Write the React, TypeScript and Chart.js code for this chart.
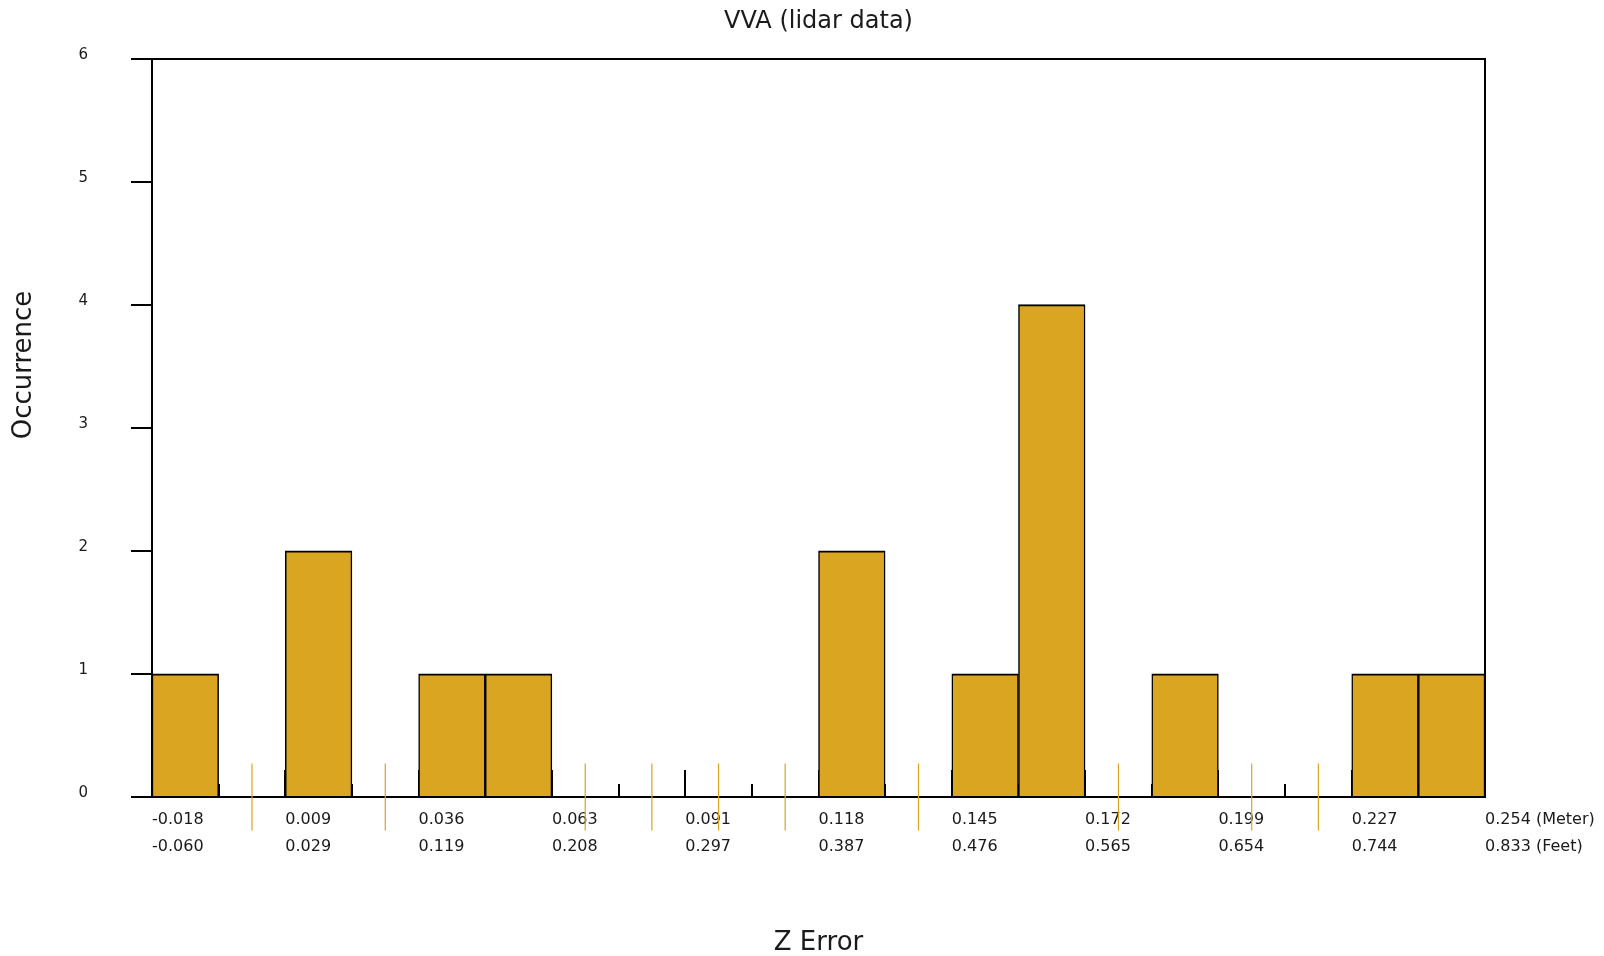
import { useEffect, useRef } from 'react';
import { Chart, registerables } from 'chart.js';

Chart.register(...registerables);

const chartTitle = 'VVA (lidar data)';
const xTitle = 'Z Error';
const yTitle = 'Occurrence';

// Occurrence per bin (20 bins from -0.018 m to 0.254 m)
const binCounts = [1, 0, 2, 0, 1, 1, 0, 0, 0, 0, 2, 0, 1, 4, 0, 1, 0, 0, 1, 1];
// Labels at every second bin edge
const meterTicks = ['-0.018', '0.009', '0.036', '0.063', '0.091', '0.118', '0.145', '0.172', '0.199', '0.227', '0.254'];
const feetTicks = ['-0.060', '0.029', '0.119', '0.208', '0.297', '0.387', '0.476', '0.565', '0.654', '0.744', '0.833'];
const yMin = 0;
const yMax = 6;

const FONT = '"DejaVu Sans", Verdana, sans-serif';
const BAR_COLOR = '#DAA520';
const TEXT = '#1a1a1a';

const yTitlePlugin = {
  id: 'yTitleText',
  afterDraw(chart: any) {
    const { ctx, chartArea } = chart;
    ctx.save();
    ctx.font = `26px ${FONT}`;
    ctx.fillStyle = TEXT;
    ctx.textAlign = 'center';
    ctx.textBaseline = 'middle';
    ctx.translate(24.7, chartArea.top + (chartArea.bottom - chartArea.top) * 0.415);
    ctx.rotate(-Math.PI / 2);
    ctx.fillText(yTitle, 0, 0);
    ctx.restore();
  },
};

export default function App() {
  const ref = useRef<HTMLCanvasElement>(null);

  useEffect(() => {
    document.body.style.margin = '0';
    document.body.style.overflow = 'hidden';
    const nBins = binCounts.length;
    const barData = binCounts.map((c, i) => ({ x: i + 0.5, y: c }));
    const emptyData = binCounts
      .map((c, i) => (c === 0 ? { x: i + 0.5, y: 0 } : null))
      .filter((p) => p !== null);

    const chart = new Chart(ref.current as HTMLCanvasElement, {
      type: 'bar',
      data: {
        datasets: [
          {
            type: 'bar',
            data: barData as any,
            backgroundColor: BAR_COLOR,
            borderColor: '#000',
            borderWidth: { top: 2, left: 1.5, right: 1.5, bottom: 0 } as any,
            borderSkipped: 'start',
            inflateAmount: 0.3,
            barPercentage: 1,
            categoryPercentage: 1,
            xAxisID: 'x',
            yAxisID: 'y',
          } as any,
          {
            type: 'scatter',
            data: emptyData as any,
            showLine: false,
            pointStyle: 'line',
            pointRotation: 90,
            pointRadius: 33.5,
            pointBorderColor: BAR_COLOR,
            pointBackgroundColor: BAR_COLOR,
            pointBorderWidth: 1.2,
            clip: false,
            xAxisID: 'x',
            yAxisID: 'y',
          } as any,
        ],
      },
      options: {
        responsive: false,
        animation: false,
        events: [],
        layout: { padding: 0 },
        plugins: {
          legend: { display: false },
          tooltip: { enabled: false },
          title: {
            display: true,
            text: chartTitle,
            fullSize: false,
            color: TEXT,
            font: { family: FONT, size: 24, weight: 'normal', lineHeight: 1.2 },
            padding: { top: 7.6, bottom: 0 },
          },
        },
        scales: {
          xMinor: {
            type: 'linear',
            position: 'bottom',
            weight: 0,
            min: 0,
            max: nBins,
            offset: false,
            afterFit: (s: any) => {
              s.height = 0;
              s.paddingLeft = 0;
              s.paddingRight = 0;
            },
            grid: { display: true, offset: false, drawOnChartArea: false, drawTicks: true, tickLength: -13, color: '#000', lineWidth: 2 },
            border: { display: false },
            ticks: { display: false, stepSize: 1, autoSkip: false },
          },
          x: {
            type: 'linear',
            position: 'bottom',
            weight: 1,
            min: 0,
            max: nBins,
            offset: false,
            afterFit: (s: any) => {
              s.height = 159;
              s.paddingLeft = 0;
              s.paddingRight = 0;
            },
            grid: { display: true, offset: false, drawOnChartArea: false, drawTicks: true, tickLength: -27, color: '#000', lineWidth: 2 },
            border: { display: true, color: '#000', width: 2 },
            ticks: {
              stepSize: 2,
              autoSkip: false,
              maxRotation: 0,
              minRotation: 0,
              align: 'start',
              padding: 36.7,
              color: TEXT,
              font: { family: FONT, size: 16, lineHeight: 1.66 },
              callback: (v: any) => {
                const k = Math.round(Number(v) / 2);
                const last = k === meterTicks.length - 1;
                return [meterTicks[k] + (last ? ' (Meter)' : ''), feetTicks[k] + (last ? ' (Feet)' : '')];
              },
            },
            title: {
              display: true,
              text: xTitle,
              color: TEXT,
              font: { family: FONT, size: 26, lineHeight: 1.0 },
              padding: { top: 0, bottom: 0 },
            },
          },
          xTop: {
            type: 'linear',
            position: 'top',
            min: 0,
            max: nBins,
            offset: false,
            afterFit: (s: any) => {
              s.height = 22.1;
              s.paddingLeft = 0;
              s.paddingRight = 0;
            },
            grid: { display: true, offset: false, drawOnChartArea: false, drawTicks: false },
            border: { display: true, color: '#000', width: 2 },
            ticks: { display: false },
          },
          y: {
            type: 'linear',
            position: 'left',
            min: yMin,
            max: yMax,
            afterFit: (s: any) => {
              s.width = 152;
            },
            grid: { display: true, drawOnChartArea: false, drawTicks: true, tickLength: 21, color: '#000', lineWidth: 2 },
            border: { display: true, color: '#000', width: 2 },
            ticks: {
              stepSize: 1,
              padding: 43,
              labelOffset: -3.8,
              color: TEXT,
              font: { family: FONT, size: 15 },
            },
          },
          yRight: {
            type: 'linear',
            position: 'right',
            min: yMin,
            max: yMax,
            afterFit: (s: any) => {
              s.width = 119;
            },
            grid: { display: true, drawOnChartArea: false, drawTicks: false },
            border: { display: true, color: '#000', width: 2 },
            ticks: { display: false },
          },
        },
      } as any,
      plugins: [yTitlePlugin],
    });
    return () => chart.destroy();
  }, []);

  return <canvas ref={ref} width={1604} height={956} style={{ display: 'block' }} />;
}
